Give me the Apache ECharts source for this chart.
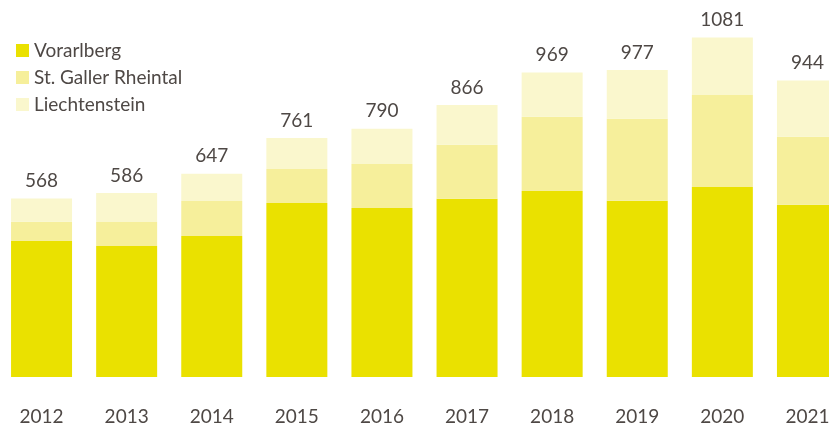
<!DOCTYPE html>
<html>
<head>
<meta charset="utf-8">
<script src="https://cdn.jsdelivr.net/npm/echarts@6/dist/echarts.min.js"></script>
<style>
  html, body { margin: 0; padding: 0; background: #fff; }
  #chart { width: 829px; height: 426px; }
</style>
</head>
<body>
<div id="chart"></div>
<script>
// Jahre und Werte
const years = ['2012', '2013', '2014', '2015', '2016', '2017', '2018', '2019', '2020', '2021'];
const vorarlberg = [433, 417, 449, 554, 538, 567, 592, 561, 605, 548];
const stGaller = [61, 76, 111, 108, 140, 172, 236, 261, 293, 217];
const liechtenstein = [74, 93, 87, 99, 112, 127, 141, 155, 183, 179];
const totals = [568, 586, 647, 761, 790, 866, 969, 977, 1081, 944];

const chart = echarts.init(document.getElementById('chart'));

const font = 'Lato, "Open Sans", sans-serif';

const option = {
  animation: false,
  textStyle: { fontFamily: font },
  legend: {
    orient: 'vertical',
    left: 11,
    top: 36,
    itemWidth: 13,
    itemHeight: 13,
    itemGap: 8,
    icon: 'rect',
    textStyle: { fontSize: 19, lineHeight: 19, color: '#4e4845', fontFamily: font },
    data: ['Vorarlberg', 'St. Galler Rheintal', 'Liechtenstein']
  },
  grid: {
    left: -1,
    width: 851,
    top: 0,
    bottom: 49,
    outerBoundsMode: 'none'
  },
  xAxis: {
    type: 'category',
    data: years,
    axisLine: { show: false },
    axisTick: { show: false },
    axisLabel: { fontSize: 19, color: '#4e4845', margin: 30, fontFamily: font }
  },
  yAxis: {
    type: 'value',
    min: 0,
    max: 1200,
    show: false,
    splitLine: { show: false }
  },
  series: [
    {
      name: 'Vorarlberg',
      type: 'bar',
      stack: 'total',
      barWidth: 61,
      data: vorarlberg,
      itemStyle: { color: '#eae100' }
    },
    {
      name: 'St. Galler Rheintal',
      type: 'bar',
      stack: 'total',
      data: stGaller,
      itemStyle: { color: '#f6ef9b' }
    },
    {
      name: 'Liechtenstein',
      type: 'bar',
      stack: 'total',
      data: liechtenstein,
      itemStyle: { color: '#faf7cd' },
      label: {
        show: true,
        position: 'top',
        distance: 8,
        fontSize: 19,
        color: '#4e4845',
        fontFamily: font,
        formatter: p => totals[p.dataIndex]
      }
    }
  ]
};

chart.setOption(option);
</script>
</body>
</html>
